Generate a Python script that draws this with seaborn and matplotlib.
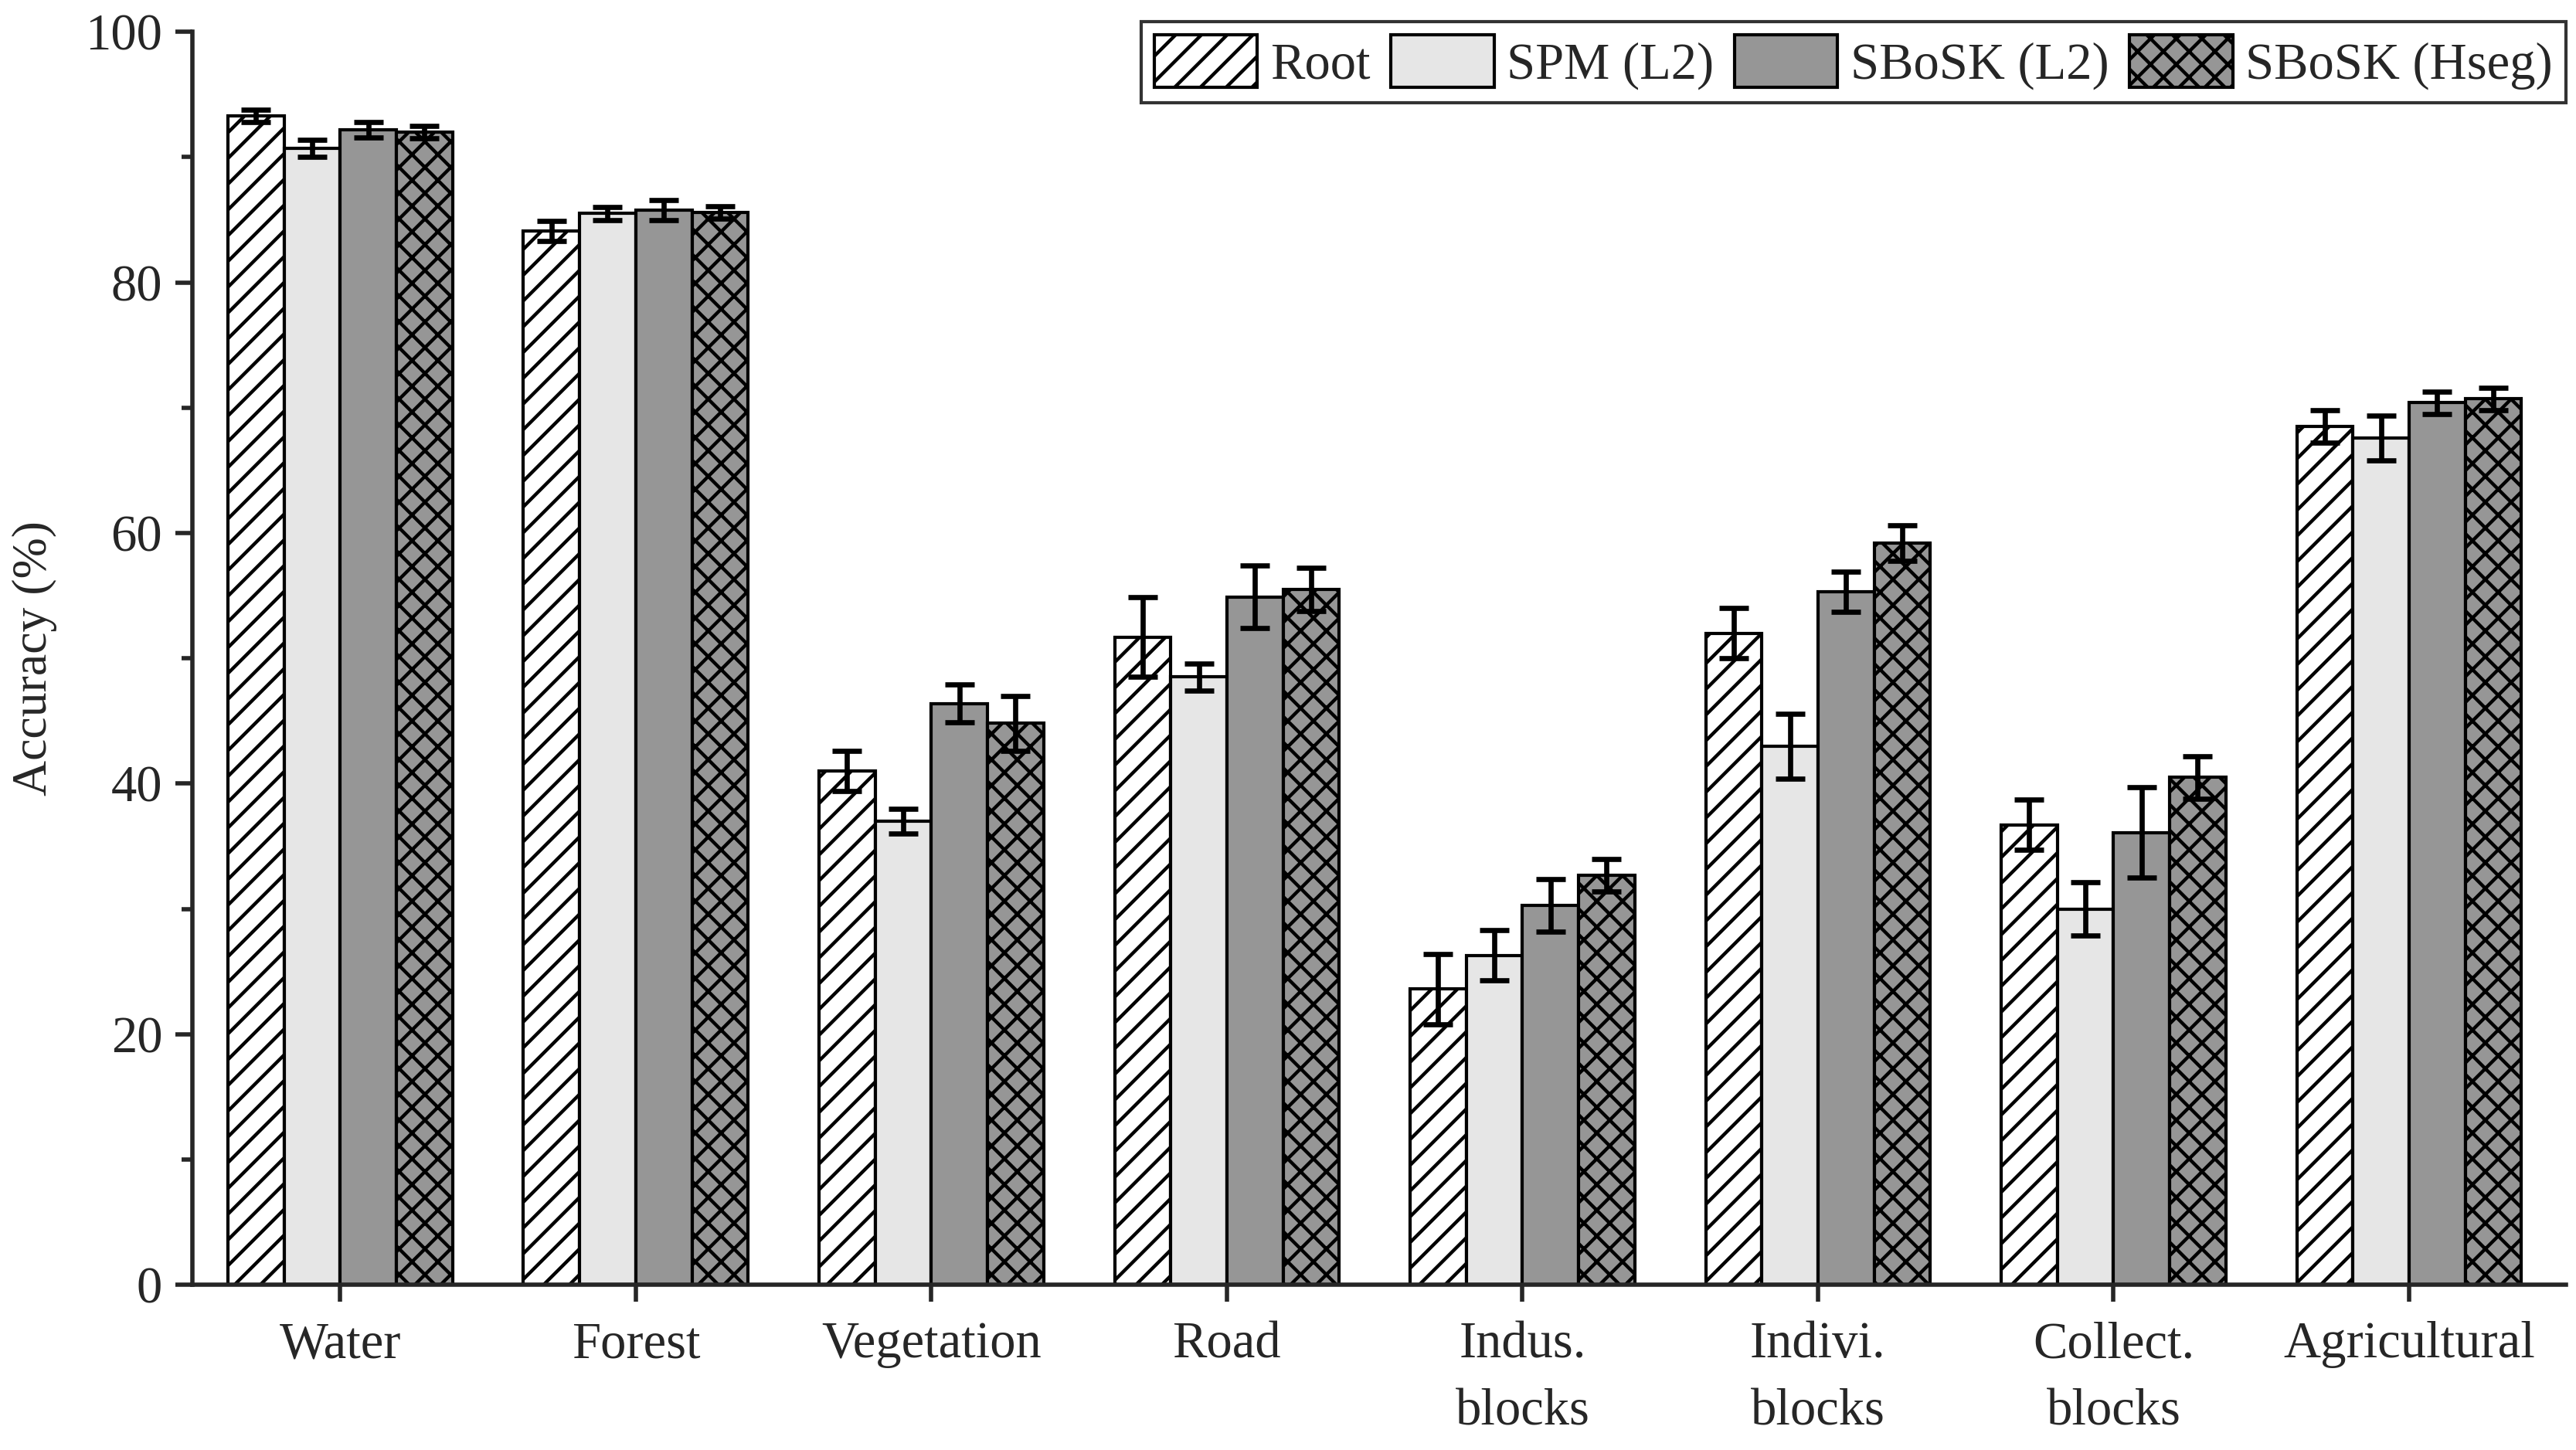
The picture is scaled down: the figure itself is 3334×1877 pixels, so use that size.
import pandas as pd
import matplotlib
matplotlib.use("Agg")
import matplotlib.pyplot as plt
from matplotlib.ticker import MultipleLocator
import seaborn as sns

# class names (x axis)
categories = ['Water', 'Forest', 'Vegetation', 'Road', 'Indus.\nblocks',
              'Indivi.\nblocks', 'Collect.\nblocks', 'Agricultural']
methods = ['Root', 'SPM (L2)', 'SBoSK (L2)', 'SBoSK (Hseg)']

# mean accuracy (%)
root_vals = [93.3, 84.1, 41.0, 51.7, 23.6, 52.0, 36.7, 68.5]
spm_vals = [90.7, 85.5, 37.0, 48.5, 26.3, 43.0, 30.0, 67.6]
sbosk_l2_vals = [92.2, 85.8, 46.4, 54.9, 30.3, 55.3, 36.1, 70.4]
sbosk_hseg_vals = [92.0, 85.6, 44.8, 55.5, 32.7, 59.2, 40.5, 70.7]

# error bar half lengths
root_err = [0.5, 0.8, 1.6, 3.2, 2.8, 2.0, 2.0, 1.3]
spm_err = [0.7, 0.5, 1.0, 1.1, 2.0, 2.6, 2.1, 1.8]
sbosk_l2_err = [0.6, 0.8, 1.5, 2.5, 2.1, 1.6, 3.6, 0.9]
sbosk_hseg_err = [0.5, 0.5, 2.2, 1.7, 1.3, 1.4, 1.7, 0.9]

colors = {'Root': '#ffffff', 'SPM (L2)': '#e6e6e6',
          'SBoSK (L2)': '#969696', 'SBoSK (Hseg)': '#969696'}
hatches = ['//', '', '', 'xx']


def main():
    all_vals = [root_vals, spm_vals, sbosk_l2_vals, sbosk_hseg_vals]
    all_errs = [root_err, spm_err, sbosk_l2_err, sbosk_hseg_err]

    rows = []
    for m, vals in zip(methods, all_vals):
        for c, v in zip(categories, vals):
            rows.append({'category': c, 'method': m, 'value': v})
    df = pd.DataFrame(rows)

    sns.set_style('ticks')
    plt.rcParams['font.family'] = ['Liberation Serif', 'DejaVu Serif']
    plt.rcParams['hatch.linewidth'] = 1.6
    plt.rcParams['hatch.color'] = 'black'

    fig, ax = plt.subplots(figsize=(16.67, 9.385), dpi=200)
    fig.subplots_adjust(left=0.0747, right=0.996, top=0.978, bottom=0.114)

    sns.barplot(data=df, x='category', y='value', hue='method',
                order=categories, hue_order=methods, palette=colors,
                saturation=1, errorbar=None, width=0.76, gap=0,
                edgecolor='black', linewidth=1.5, legend=False, ax=ax)

    # hatches + error bars on each series
    for cont, h, errs in zip(ax.containers, hatches, all_errs):
        xs, ys = [], []
        for p in cont.patches:
            p.set_hatch(h)
            p.set_edgecolor('black')
            xs.append(p.get_x() + p.get_width() / 2)
            ys.append(p.get_height())
        eb = ax.errorbar(xs, ys, yerr=errs, fmt='none', ecolor='black',
                         elinewidth=2.4, capsize=7, capthick=2.4, zorder=5)
        for cap in eb[1]:
            cap.set_solid_capstyle('round')

    ax.set_ylim(0, 100)
    ax.set_xlim(-0.5, 7.53)
    ax.yaxis.set_major_locator(MultipleLocator(20))
    ax.yaxis.set_minor_locator(MultipleLocator(10))
    ax.set_xlabel('')
    ax.set_ylabel('Accuracy (%)', fontsize=23, labelpad=13)

    sns.despine(ax=ax)
    for s in ['left', 'bottom']:
        ax.spines[s].set_linewidth(2.0)
    ax.tick_params(axis='both', which='major', labelsize=24, width=2.0,
                   length=8, direction='out', pad=6)
    ax.tick_params(axis='x', pad=9)
    ax.tick_params(axis='y', which='minor', width=2.0, length=5)
    for lbl in ax.get_xticklabels():
        lbl.set_linespacing(1.55)

    leg = ax.legend(ax.containers, methods, loc='upper right',
                    bbox_to_anchor=(1.0, 1.008), ncol=4, fontsize=24,
                    frameon=True, fancybox=False, edgecolor='black',
                    handlelength=2.0, handleheight=1.2, handletextpad=0.25,
                    columnspacing=0.4, borderpad=0.25, borderaxespad=0)
    leg.get_frame().set_linewidth(1.5)

    fig.savefig('out.png', dpi=200)


if __name__ == "__main__":
    main()
